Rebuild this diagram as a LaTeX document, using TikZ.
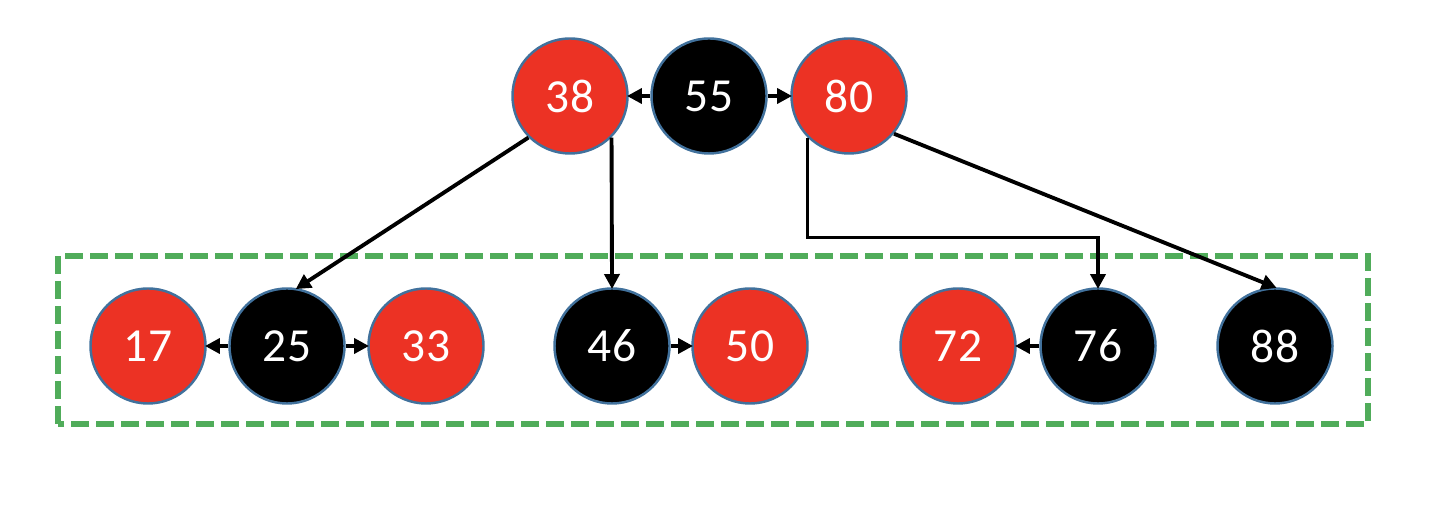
\documentclass[tikz,border=0pt]{standalone}
\usepackage{fontspec}
\setmainfont{Carlito}
\usetikzlibrary{arrows.meta}
\definecolor{rbred}{RGB}{236,50,36}
\definecolor{rbedge}{RGB}{65,113,156}
\definecolor{boxgreen}{RGB}{80,172,90}
\begin{document}
\begin{tikzpicture}[
        >={Triangle[length=1.5mm,width=1.5mm]},
        line width=1.1pt,
        key/.style={circle, draw=rbedge, line width=0.7pt, minimum size=1.15cm,
            inner sep=0pt, text=white, font=\fontsize{13.5}{15}\selectfont},
        rednode/.style={key, fill=rbred},
        blacknode/.style={key, fill=black},
        link/.style={->, shorten >=-0.5pt}
    ]
    \useasboundingbox (0,0) rectangle (14.56,5.26);

    % Root node 38 | 55 | 80
    \node[rednode]   (k38) at (5.70,4.30) {38};
    \node[blacknode] (k55) at (7.09,4.30) {55};
    \node[rednode]   (k80) at (8.49,4.30) {80};

    % Leaf row
    \node[rednode]   (k17) at (1.48,1.80) {17};
    \node[blacknode] (k25) at (2.87,1.80) {25};
    \node[rednode]   (k33) at (4.26,1.80) {33};
    \node[blacknode] (k46) at (6.12,1.80) {46};
    \node[rednode]   (k50) at (7.50,1.80) {50};
    \node[rednode]   (k72) at (9.58,1.80) {72};
    \node[blacknode] (k76) at (10.98,1.80) {76};
    \node[blacknode] (k88) at (12.75,1.80) {88};

    % Dashed frame round the leaves
    \draw[boxgreen, line width=1.6pt, dash pattern=on 0.18cm off 0.07cm]
      (0.58,1.02) rectangle (13.68,2.70);

    % Links inside the nodes
    \draw[link] (k55) -- (k38);
    \draw[link] (k55) -- (k80);
    \draw[link] (k25) -- (k17);
    \draw[link] (k25) -- (k33);
    \draw[link] (k46) -- (k50);
    \draw[link] (k76) -- (k72);

    % Child pointers
    \draw[link] (k38.south west) -- (k25.80);
    \draw[link] (k38.south east) -- (k46.north);
    \draw[link] (k80.south west) -- ++(0,-1.00) -| (k76.north);
    \draw[link] (k80.-40) -- (k88.north);
\end{tikzpicture}
\end{document}
